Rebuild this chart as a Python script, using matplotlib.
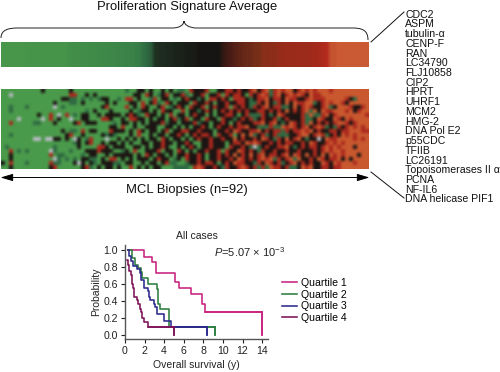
import matplotlib
matplotlib.use("Agg")
import matplotlib.pyplot as plt
import numpy as np
from matplotlib.colors import LinearSegmentedColormap, to_rgb
from matplotlib.path import Path
from matplotlib.patches import PathPatch

plt.rcParams['font.family'] = ['Liberation Sans', 'DejaVu Sans']
plt.rcParams['mathtext.fontset'] = 'custom'
plt.rcParams['mathtext.rm'] = 'Liberation Sans'
plt.rcParams['mathtext.it'] = 'Liberation Sans:italic'

genes = ["CDC2", "ASPM", "tubulin-α", "CENP-F", "RAN", "LC34790", "FLJ10858", "CIP2",
         "HPRT", "UHRF1", "MCM2", "HMG-2", "DNA Pol E2", "p55CDC", "TFIIB", "LC26191",
         "Topoisomerases II α", "PCNA", "NF-IL6", "DNA helicase PIF1"]

signature_avg = [-1, -1, -1, -1, -1, -1, -.97, -.97, -.97, -.97, -.97, -.97, -.97, -.97, -.97, -.97,
                 -.95, -.85, -.85, -.85, -.8, -.8, -.78, -.78, -.75, -.72, -.72, -.7, -.7, -.66,
                 -.66, -.62, -.62, -.58, -.55, -.42, -.35, -.3, -.12, -.1, -.1, -.08, -.08, -.06,
                 -.06, -.05, -.03, -.03, -.03, 0, 0, 0, 0, 0, 0, .12, .2, .24, .3, .34, .38, .42,
                 .42, .48, .48, .6, .6, .62, .62, .7, .7, .72, .72, .72, .74, .74, .74, .76, .78,
                 .8, .85, .88, .98, .98, 1, 1, 1, 1, 1, 1, 1, 1]

heat_left = [
 "..........K......K.............",
 "..W..............RR..K.K.......",
 "...............KKgg.g.g.gKK..g.",
 ".............K...gg.K.....K.K..",
 "..g...g......W.g.........KR....",
 "..g..................g.K...K...",
 ".........K..R.W.R.g.KK..K.KKKK.",
 "....W.....W.R.K..W..KK...RRK..K",
 "..R.....gg...K....KR.KKK....g.K",
 "...........................KK.R",
 "...............K.gg.R.KK...RKKK",
 "..g.............KR..K....KgKg..",
 "........WW.WWKK.K.WK.gR...W..K.",
 "..................gK.KR..K.KK.K",
 ".g...........g.....K....RRK.KKK",
 "..R.g.g.....Wg...g...KKKRKKK..g",
 "..K.........R.gg....g.KK..K.KKK",
 "..K..........Wg.g.g.KKgg.K.RR.K",
 "K.R...g.....Rgg...KWK.Kg.KKKgg.",
 "..K.........KR......KRg.K.KK.K.",
]
heat_mid = [
 "g..KK.K..K.K.gg.RKKKR..KKRRKRKK",
 "..KK.RK.gKR.KKRg.KKR.KKR.RKRRK.",
 "RR.K..gR.KK.g.KRKKgK.RRKRK.RRRK",
 ".KK.R.KRg.RK.KKK.RKKRK.KKRKKRRK",
 "R.K.RK..KR.gKRK.RKKR.KRKKR.RKRK",
 ".K.gKK.K.RKK..R.KKgKRK.KRKRKRKR",
 "KRKg.RKK.K.R.KK.KRKK.K.KKRRK.KR",
 ".RRKK.K.KK.KRgKR.KK.RKK.RKKgKRK",
 "K.K.K.KKKRgKK.KKKRgKK.KKRK.KRKK",
 "..K..KKK..KK.K.K.KKRK.KRKKRKRR-",
 ".K.RK.KK.KR.KKRRKKRKKK.KKRK-RKK",
 ".K.R..K.KK.KKRK.KRKRRK.RKKR.K-K",
 "K.K.K.KK.RK.KK.K.KRKKRKKRKK-KRK",
 ".K..KK.KKRKK.KKRK..KKRKKK.KRRK-",
 "..KK.K.KKRK..K.KRK.KKRKKK.RKKRK",
 "K.R..KKKR.KK.RK.K.KKRKKR.RKK-RK",
 "KK.K.RK.KK.K.KKRKKRK.KKRKRK-KRK",
 ".K.KKK.KRKK.gK.RKKRK.KKRKKRK-RK",
 "KK..K.KK.KRgg..gKKRKRRK.KRK-RRK",
 ".R.K.K.KK...gggg.R-RKKRKgRKKR-R",
]
heat_right = [
 "R-KR-gR-R--KR-R-R---R---------",
 "RKR-RgR-KR-R-RK-RR------------",
 "gKRR-KRRK-RRKKR-RRR-----RKg---",
 "ggRK-KgRK-K-RR--gKR-R--RK-----",
 "gRKR-KRRggK-KR-RKKR-gK---RKKR-",
 "KKRRKRKRK-KRKR-g-K-RR---R-KR--",
 "gggRKgK-RKKKKRg-ggR-KR-------R",
 "RgKRKKRgKRKKKRggK-RKK-RK-R----",
 "KRR-KR-KgK-RKRg-KRKRKR--RKR---",
 "KKgggRgg-R-RKR-KR-RgKgRKR-R-R-",
 "RR-KRKRRgRKRR-R-KRKKRRKRR---RR",
 "-gKRgKRgggKKR--KR-RgKRK-R-R---",
 "KRK-RKgRK-KR-KgKKWK-RR----R-R-",
 "R-RKKRKRKRRKKRK-RKKR-R-R------",
 "gWgKRKKRR-KgKRKRRKR-R-R---K---",
 "RKgRKKRKKRKKRKKKRKR-R--R------",
 "-KR-KRRKR-K-RK-KRK-K-R-R---K--",
 "RKR-R-gRKR-g-KKRK-RKRR-K-K----",
 "KgRK-RKRgKR-KRKRKK-RK-R---R---",
 "KRgRg-RRKRggK-R-KKRRKRR-------",
]

q1_t = [0.3, 1.9, 2.8, 3.2, 5.1, 5.5, 6.7, 7.9, 8.2, 14.0]
q1_s = [1.0, .91, .85, .73, .62, .55, .48, .36, .27, 0.0]
q2_t = [0.3, 0.7, 1.0, 1.3, 1.6, 1.7, 2.3, 3.3, 3.4, 3.6, 4.5, 9.2]
q2_s = [1.0, .90, .82, .78, .74, .67, .60, .54, .36, .30, .09, 0.0]
q3_t = [0.3, .4, .6, .8, 1.2, 1.5, 1.6, 1.9, 2.3, 2.5, 2.6, 3.0, 3.1, 3.3, 4.0, 4.7, 8.4]
q3_s = [1.0, .93, .87, .81, .77, .73, .65, .55, .52, .45, .41, .36, .33, .25, .16, .09, 0.0]
q4_t = [.2, .3, .4, .6, .7, .8, .9, 1.2, 1.3, 1.5, 1.6, 1.7, 1.9, 2.3, 5.0]
q4_s = [.88, .82, .75, .70, .60, .55, .44, .41, .36, .30, .27, .20, .15, .09, 0.0]
quartile_names = ["Quartile 1", "Quartile 2", "Quartile 3", "Quartile 4"]
quartile_colors = ["#c9227f", "#2b7d3f", "#2c2a8c", "#7d1257"]

W, H = 500, 372
fig = plt.figure(figsize=(W / 100, H / 100), dpi=100, facecolor='white')
ov = fig.add_axes([0, 0, 1, 1])
ov.axis('off')

avg_cmap = LinearSegmentedColormap.from_list("avg", [
    (0.0, "#47964a"), (0.2, "#3a8248"), (0.32, "#2f6b42"), (0.5, "#171513"),
    (0.62, "#4a1c16"), (0.75, "#7a3018"), (0.9, "#a52a1c"), (0.94, "#b32a1f"), (1.0, "#c95a33")])
ov.imshow(np.array(signature_avg)[None, :], cmap=avg_cmap, vmin=-1, vmax=1, aspect='auto',
          extent=(1, 369, 67.5, 43), interpolation='bilinear')

palette = {'.': "#4a9a4b", 'g': "#2f6b42", 'K': "#1c1513", 'R': "#ab291e", '-': "#c9582f", 'W': "#b9bcc4"}
rows = [a.ljust(31, '.')[:31] + b.ljust(31, '.')[:31] + c.ljust(30, '-')[:30]
        for a, b, c in zip(heat_left, heat_mid, heat_right)]
mat = np.array([[to_rgb(palette[ch]) for ch in r] for r in rows])
ov.imshow(mat, aspect='auto', extent=(1, 369, 169.5, 90), interpolation='bilinear')
ov.set_xlim(0, W)
ov.set_ylim(H, 0)

ov.text(187, 7, "Proliferation Signature Average", ha='center', va='center', fontsize=9.4, color='#111111')
ov.text(187, 190, "MCL Biopsies (n=92)", ha='center', va='center', fontsize=9.4, color='#111111')

brace = [(1, 38), (1, 30), (8, 28), (18, 28), (172, 28), (181, 28), (184, 24), (184, 21),
         (184, 24), (188, 28), (197, 28), (352, 28), (362, 28), (368, 30), (368, 40)]
bc = [Path.MOVETO, Path.CURVE4, Path.CURVE4, Path.CURVE4, Path.LINETO, Path.CURVE4, Path.CURVE4, Path.CURVE4,
      Path.CURVE4, Path.CURVE4, Path.CURVE4, Path.LINETO, Path.CURVE4, Path.CURVE4, Path.CURVE4]
ov.add_patch(PathPatch(Path(brace, bc), fill=False, lw=0.7, edgecolor='#222222'))

ov.annotate("", xy=(369.5, 177.5), xytext=(0.5, 177.5),
            arrowprops=dict(arrowstyle='<|-|>,head_length=0.75,head_width=0.22', lw=0.7, color='black',
                            shrinkA=0, shrinkB=0, mutation_scale=10))

ov.plot([371, 404], [42, 12], color='#111111', lw=0.7)
ov.plot([371, 404], [172, 198], color='#111111', lw=0.7)
for i, g in enumerate(genes):
    ov.text(405, 14.7 + 9.72 * i, g, ha='left', va='center', fontsize=7.6, color='#111111')

ax = fig.add_axes([125 / W, 1 - 339 / H, 143 / W, 94 / H])
ax.patch.set_alpha(0)
ax.set_xlim(0, 14.6)
ax.set_ylim(-0.047, 1.055)
series = [(q1_t, q1_s), (q2_t, q2_s), (q3_t, q3_s), (q4_t, q4_s)]
for (t, s), n, c in zip(series, quartile_names, quartile_colors):
    ax.step(t, s, where='post', color=c, lw=1.15, label=n)
    ax.plot([t[-2], t[-1]], [s[-2], s[-2]], color=c, lw=1.15)
    ax.plot([t[-1], t[-1]], [s[-2], s[-1]], color=c, lw=1.15)
for sp in ('top', 'right'):
    ax.spines[sp].set_visible(False)
for sp in ('left', 'bottom'):
    ax.spines[sp].set_linewidth(1.0)
    ax.spines[sp].set_color('#555555')
ax.set_xticks(range(0, 15, 2))
ax.set_yticks([0, .2, .4, .6, .8, 1.0])
ax.tick_params(labelsize=7.6, length=3, width=0.8, pad=2, colors='#222222')
ax.set_xlabel("Overall survival (y)", fontsize=7.5, labelpad=3, color='#222222')
ax.set_ylabel("Probability", fontsize=7.5, labelpad=2, color='#222222')
ax.legend(loc='upper left', bbox_to_anchor=(1.1, 0.65), frameon=False, fontsize=7.6, handlelength=1.35,
          handletextpad=0.4, labelspacing=0.16, borderpad=0, borderaxespad=0)

ov.text(197, 236, "All cases", ha='center', va='center', fontsize=7.5, color='#222222')
ov.text(214, 252, r"$\mathit{P}$=5.07 $\times$ 10$^{-3}$", ha='left', va='center', fontsize=8, color='#222222')

fig.savefig("out.png", dpi=100, facecolor='white')
